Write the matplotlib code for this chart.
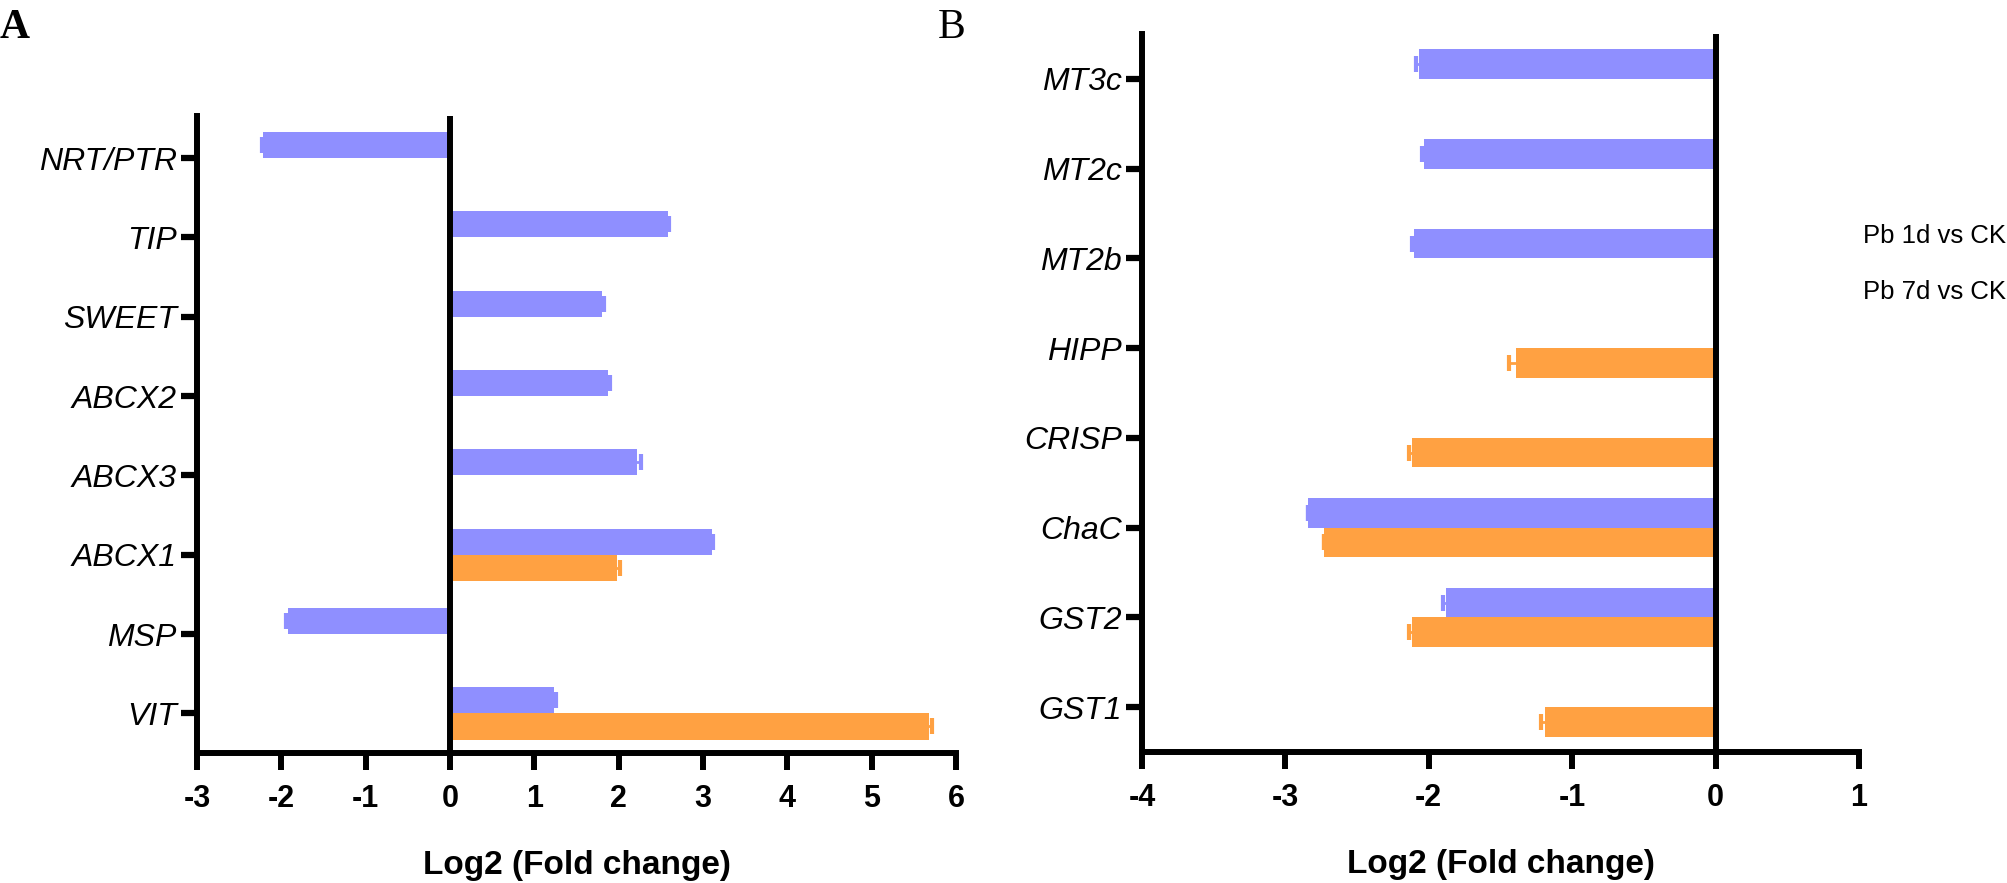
import matplotlib
matplotlib.use("Agg")
import matplotlib.pyplot as plt
from matplotlib import font_manager
import numpy as np

plt.rcParams['font.family'] = ['Liberation Sans', 'DejaVu Sans']

nan = np.nan

# panel A (top to bottom)
genes_a = ['NRT/PTR', 'TIP', 'SWEET', 'ABCX2', 'ABCX3', 'ABCX1', 'MSP', 'VIT']
d1_a = [-2.22, 2.59, 1.80, 1.87, 2.22, 3.11, -1.92, 1.23]
d1_a_err = [0.01, 0.01, 0.03, 0.03, 0.04, 0.01, 0.03, 0.03]
d7_a = [nan, nan, nan, nan, nan, 1.98, nan, 5.68]
d7_a_err = [nan, nan, nan, nan, nan, 0.03, nan, 0.04]

# panel B (top to bottom)
genes_b = ['MT3c', 'MT2c', 'MT2b', 'HIPP', 'CRISP', 'ChaC', 'GST2', 'GST1']
d1_b = [-2.07, -2.03, -2.10, nan, nan, -2.84, -1.88, nan]
d1_b_err = [0.02, 0.02, 0.02, nan, nan, 0.0, 0.02, nan]
d7_b = [nan, nan, nan, -1.39, -2.12, -2.73, -2.12, -1.19]
d7_b_err = [nan, nan, nan, 0.05, 0.02, 0.0, 0.02, 0.03]

xticks_a = [-3, -2, -1, 0, 1, 2, 3, 4, 5, 6]
xticks_b = [-4, -3, -2, -1, 0, 1]

blue = '#8f8fff'
orange = '#ffa142'
h = 0.33

# condensed face for axis title / legend if there is one
names = {f.name for f in font_manager.fontManager.ttflist}
if 'Liberation Sans Narrow' in names:
    narrow = 'Liberation Sans Narrow'
    xlab_size, leg_size = 27, 21
else:
    narrow = 'Liberation Sans'
    xlab_size, leg_size = 24, 18.5

fig = plt.figure(figsize=(20.08, 8.83), dpi=100)
ax1 = fig.add_axes([0.0981, 0.1472, 0.378, 0.7214])
ax2 = fig.add_axes([0.5687, 0.1484, 0.3571, 0.8131])


def draw(ax, genes, v1, e1, v7, e7, xticks, ylim):
    n = len(genes)
    pos = np.arange(n)[::-1]
    # error bars first so the bar hides the inner half
    ax.errorbar(v1, pos + h / 2, xerr=e1, fmt='none', ecolor=blue,
                elinewidth=2, capsize=6, capthick=3, zorder=1)
    ax.errorbar(v7, pos - h / 2, xerr=e7, fmt='none', ecolor=orange,
                elinewidth=2, capsize=6, capthick=3, zorder=1)
    ax.barh(pos + h / 2, np.nan_to_num(v1), height=h, color=blue, zorder=2)
    ax.barh(pos - h / 2, np.nan_to_num(v7), height=h, color=orange, zorder=2)
    ax.axvline(0, color='black', lw=4.3, zorder=3)

    ax.set_xlim(xticks[0], xticks[-1])
    ax.set_ylim(*ylim)
    ax.set_xticks(xticks)
    ax.set_xticklabels([str(t) for t in xticks], fontsize=22, fontweight='bold')
    ax.set_yticks(pos)
    ax.set_yticklabels(genes, fontsize=23, fontstyle='italic')
    ax.set_xlabel('Log2 (Fold change)', fontsize=xlab_size, fontweight='bold',
                  family=[narrow, 'DejaVu Sans'], labelpad=26)

    for s in ['top', 'right']:
        ax.spines[s].set_visible(False)
    for s in ['left', 'bottom']:
        ax.spines[s].set_linewidth(4.3)
    ax.tick_params(axis='y', length=11.5, width=4.5, pad=3)
    ax.tick_params(axis='x', length=12, width=4.3, pad=10)


draw(ax1, genes_a, d1_a, d1_a_err, d7_a, d7_a_err, xticks_a, (-0.5, 7.53))
draw(ax2, genes_b, d1_b, d1_b_err, d7_b, d7_b_err, xticks_b, (-0.5, 7.5))

fig.text(0.0, 0.99, 'A', fontsize=30, family='Liberation Serif', fontweight='bold',
         va='top', ha='left')
fig.text(0.467, 0.99, 'B', fontsize=30, family='Liberation Serif', va='top', ha='left')

fig.text(0.999, 1 - 236 / 883, 'Pb 1d vs CK', fontsize=leg_size,
         family=[narrow, 'DejaVu Sans'], ha='right', va='center')
fig.text(0.999, 1 - 292 / 883, 'Pb 7d vs CK', fontsize=leg_size,
         family=[narrow, 'DejaVu Sans'], ha='right', va='center')

fig.savefig('out.png', dpi=100)
